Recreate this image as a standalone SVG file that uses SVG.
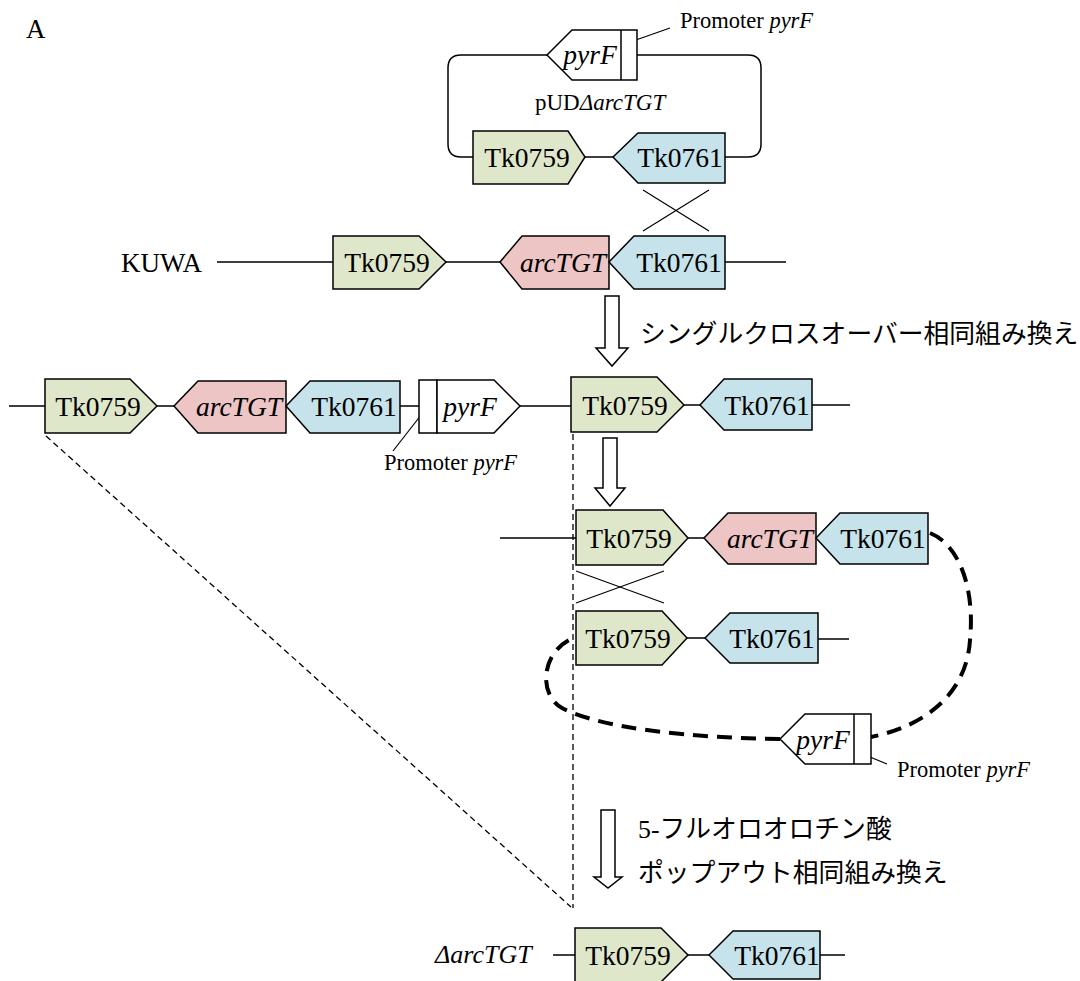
<svg xmlns="http://www.w3.org/2000/svg" width="1080" height="981" viewBox="0 0 1080 981">
<defs>
<style>
.bg{fill:#ffffff}
.g{fill:#dfe7ca;stroke:#000;stroke-width:1.5}
.b{fill:#c6e3eb;stroke:#000;stroke-width:1.5}
.p{fill:#edc5c5;stroke:#000;stroke-width:1.5}
.w{fill:#ffffff;stroke:#000;stroke-width:1.5}
.ln{fill:none;stroke:#000;stroke-width:1.5}
.thin{fill:none;stroke:#000;stroke-width:1.2}
.dash{fill:none;stroke:#000;stroke-width:1.3;stroke-dasharray:6 4}
.thick{fill:none;stroke:#000;stroke-width:4;stroke-dasharray:15 9}
.t{font-family:"Liberation Serif","Times New Roman",serif;font-size:27.5px;fill:#000;text-anchor:middle}
.i{font-style:italic}
.s{font-family:"Liberation Serif","Times New Roman",serif;font-size:22.5px;fill:#000}
.jp{font-family:"Noto Sans CJK JP","Noto Sans",sans-serif;font-size:25.8px;fill:#000}
</style>
</defs>
<rect class="bg" x="0" y="0" width="1080" height="981"/>
<text x="26" y="38" class="s" style="font-size:27px">A</text>

<g id="connectors">
<path class="ln" d="M547,55 L461,55 Q448,55 448,68 L448,144 Q448,157 461,157 L473,157 M585,157 L613,157 M725,157 L748,157 Q761,157 761,144 L761,68 Q761,55 748,55 L637,55"/>
<line class="thin" x1="633" y1="41" x2="670" y2="28"/>
<line class="thin" x1="643" y1="190" x2="709" y2="231"/>
<line class="thin" x1="709" y1="190" x2="643" y2="231"/>
<path class="ln" d="M217,262 L333,262 M446,262 L500,262 M725,262 L786,262"/>
<path class="ln" d="M9,406 L45,406 M157,406 L174,406 M400,406 L419,406 M520,406 L571,406 M684,405 L700,405 M812,405 L850,405"/>
<line class="thin" x1="425" y1="410" x2="393" y2="451"/>
<path class="ln" d="M500,538 L576,538 M688,538 L704,538"/>
<line class="thin" x1="576" y1="571" x2="664" y2="603"/>
<line class="thin" x1="576" y1="603" x2="664" y2="571"/>
<path class="ln" d="M687,638 L705,638 M818,639 L849,639"/>
<path class="thick" d="M930,533 C960,545 975,590 970,640 C967,690 930,725 871,737"/>
<path class="thick" d="M780,739 C690,738 600,728 562,708 C538,695 540,650 576,637"/>
<line class="thin" x1="858" y1="752" x2="887" y2="764"/>
<line class="dash" x1="573" y1="434" x2="573" y2="908"/>
<line class="dash" x1="46" y1="436" x2="571" y2="907"/>
<path class="ln" d="M553,955 L575,955 M688,955 L709,955 M820,955 L845,955"/>
<polygon class="w" points="605,296 619,296 619,348 628,348 612,366 596,348 605,348"/>
<polygon class="w" points="603,438 617,438 617,488 625,488 610,506 595,488 603,488"/>
<polygon class="w" points="601,810 615,810 615,877 622,877 608,888 594,877 601,877"/>
</g>

<g id="plasmid">
<text x="535" y="110" class="s" style="font-size:23px">pUD<tspan class="i">ΔarcTGT</tspan></text>
<g id="top-pyrF"><polygon class="w" points="547,55 572,30 637,30 637,80 572,80"/><line class="ln" x1="621" y1="30" x2="621" y2="80"/><text x="590" y="64" class="t i">pyrF</text></g>
<text x="680" y="28" class="s">Promoter <tspan class="i">pyrF</tspan></text>
<g id="top-Tk0759"><polygon class="g" points="473,131 568,131 585,157 568,184 473,184"/><text x="527" y="167" class="t">Tk0759</text></g>
<g id="top-Tk0761"><polygon class="b" points="613,157 638,133 725,133 725,183 638,183"/><text x="680" y="167" class="t">Tk0761</text></g>
</g>

<g id="kuwa">
<text x="121" y="272" class="s" style="font-size:27px">KUWA</text>
<g id="k-Tk0759"><polygon class="g" points="333,236 419,236 446,262 419,289 333,289"/><text x="387" y="272" class="t">Tk0759</text></g>
<g id="k-arcTGT"><polygon class="p" points="500,262 522,236 609,236 609,289 522,289"/><text x="563" y="272" class="t i">arcTGT</text></g>
<g id="k-Tk0761"><polygon class="b" points="609,262 634,236 725,236 725,289 634,289"/><text x="679" y="272" class="t">Tk0761</text></g>
</g>

<text x="640" y="343" class="jp">シングルクロスオーバー相同組み換え</text>

<g id="row2">
<g id="r2-Tk0759"><polygon class="g" points="45,379 130,379 157,406 130,433 45,433"/><text x="98" y="416" class="t">Tk0759</text></g>
<g id="r2-arcTGT"><polygon class="p" points="174,406 198,381 286,381 286,433 198,433"/><text x="239" y="416" class="t i">arcTGT</text></g>
<g id="r2-Tk0761"><polygon class="b" points="286,406 310,381 400,381 400,433 310,433"/><text x="354" y="416" class="t">Tk0761</text></g>
<g id="r2-pyrF"><rect class="w" x="419" y="380" width="18" height="53"/><polygon class="w" points="437,380 494,380 520,406 494,433 437,433"/><text x="470" y="416" class="t i">pyrF</text></g>
<text x="384" y="470" class="s">Promoter <tspan class="i">pyrF</tspan></text>
<g id="r2-Tk0759b"><polygon class="g" points="571,377 657,377 684,405 657,432 571,432"/><text x="625" y="415" class="t">Tk0759</text></g>
<g id="r2-Tk0761b"><polygon class="b" points="700,405 724,379 812,379 812,430 724,430"/><text x="767" y="415" class="t">Tk0761</text></g>
</g>

<g id="row3">
<g id="r3-Tk0759"><polygon class="g" points="576,510 663,510 688,538 663,565 576,565"/><text x="629" y="548" class="t">Tk0759</text></g>
<g id="r3-arcTGT"><polygon class="p" points="704,538 728,513 816,513 816,564 728,564"/><text x="770" y="548" class="t i">arcTGT</text></g>
<g id="r3-Tk0761"><polygon class="b" points="816,538 840,513 928,513 928,564 840,564"/><text x="883" y="548" class="t">Tk0761</text></g>
<g id="r3-Tk0759b"><polygon class="g" points="576,611 662,611 687,638 662,665 576,665"/><text x="628" y="648" class="t">Tk0759</text></g>
<g id="r3-Tk0761b"><polygon class="b" points="705,638 730,613 818,613 818,663 730,663"/><text x="772" y="648" class="t">Tk0761</text></g>
<g id="r3-pyrF"><polygon class="w" points="780,739 805,714 871,714 871,764 805,764"/><line class="ln" x1="854" y1="714" x2="854" y2="764"/><text x="823" y="749" class="t i">pyrF</text></g>
<text x="897" y="777" class="s">Promoter <tspan class="i">pyrF</tspan></text>
</g>

<text x="638" y="838" class="jp"><tspan style="font-family:'Liberation Serif',serif">5-</tspan>フルオロオロチン酸</text>
<text x="638" y="882" class="jp">ポップアウト相同組み換え</text>

<g id="final">
<text x="435" y="963" class="s i" style="font-size:26px">ΔarcTGT</text>
<g id="f-Tk0759"><polygon class="g" points="575,928 661,928 688,955 661,982 575,982"/><text x="628" y="965" class="t">Tk0759</text></g>
<g id="f-Tk0761"><polygon class="b" points="709,955 733,931 820,931 820,979 733,979"/><text x="777" y="965" class="t">Tk0761</text></g>
</g>
</svg>
